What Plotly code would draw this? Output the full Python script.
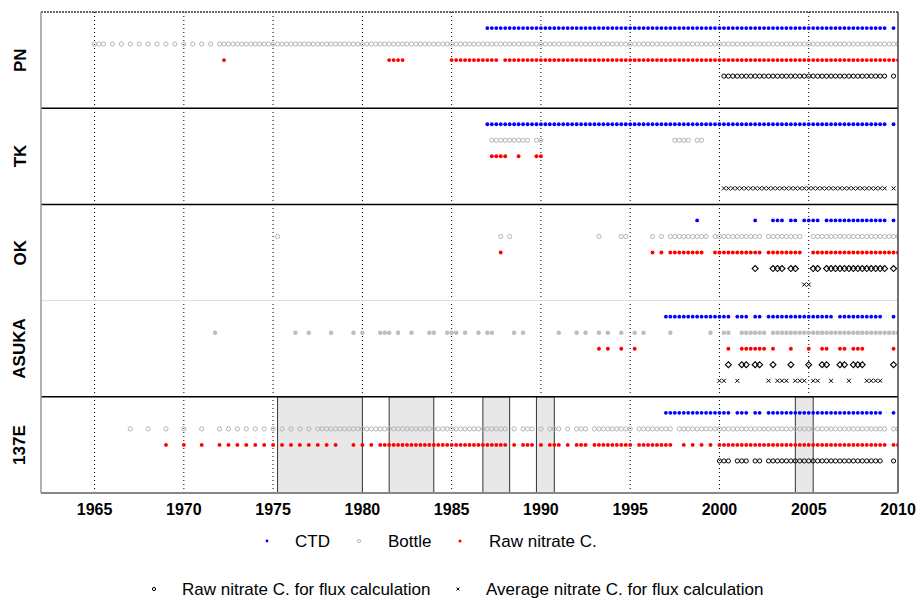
import plotly.graph_objects as go

# ---------------- data ----------------
START_YEAR = 1962           # first year token in every mask string
X_TICKS = [1965, 1970, 1975, 1980, 1985, 1990, 1995, 2000, 2005, 2010]
STATIONS = ["PN", "TK", "OK", "ASUKA", "137E"]
SERIES = ["CTD", "Bottle", "Raw nitrate C.",
          "Raw nitrate C. for flux calculation",
          "Average nitrate C. for flux calculation"]

# Sampling masks: one 4-char token per year from 1962 to 2010,
# one char per quarter ('#' = sampled, '.' = not sampled).
# '|' separates 1962-64 | 65-69 | 70-74 | 75-79 | 80-84 | 85-89 | 90-94 | 95-99 | 00-04 | 05-09 | 2010
PN_CTD = (".... .... .... | .... .... .... .... .... | .... .... .... .... .... | .... .... .... .... .... | "
          ".... .... .... .... .... | .... .... #### #### #### | #### #### #### #### #### | #### #### #### #### #### | "
          "#### #### #### #### #### | #### #### #### #### ##.# | ....")
PN_BOT = (".... .... .... | ###. #.#. #.#. #.#. #.#. | #.#. #.#. #### #### #### | #### #### #### #### #### | "
          "#### #### #### #### #### | #### #### #### #### #### | #### #### #### #### #### | #### #### #### #### #### | "
          "#### #### #### #### #### | #### #### #### #### #### | #...")
PN_RAW = (".... .... .... | .... .... .... .... .... | .... .... .#.. .... .... | .... .... .... .... .... | "
          ".... ..## ##.. .... .... | #### #### ###. #### #### | #### #### #### #### #### | #### #### #### #### #### | "
          "#### #### #### #### #### | #### #### #### #### #### | #...")
PN_FLX = (".... .... .... | .... .... .... .... .... | .... .... .... .... .... | .... .... .... .... .... | "
          ".... .... .... .... .... | .... .... .... .... .... | .... .... .... .... .... | .... .... .... .... .... | "
          ".### #### #### #### #### | #### #### #### #### ##.# | ....")
PN_AVG = ""

TK_CTD = (".... .... .... | .... .... .... .... .... | .... .... .... .... .... | .... .... .... .... .... | "
          ".... .... .... .... .... | .... .... #### #### #### | #### #### #### #### #### | #### #### #### #### #### | "
          "#### #### #### #### #### | #### #### #### #### ##.# | ....")
TK_BOT = (".... .... .... | .... .... .... .... .... | .... .... .... .... .... | .... .... .... .... .... | "
          ".... .... .... .... .... | .... .... .### #### ##.# | #... .... .... .... .... | .... .... ..## ##.# #... | "
          ".... .... .... .... .... | .... .... .... .... .... | ....")
TK_RAW = (".... .... .... | .... .... .... .... .... | .... .... .... .... .... | .... .... .... .... .... | "
          ".... .... .... .... .... | .... .... .### #..# ...# | #... .... .... .... .... | .... .... .... .... .... | "
          ".... .... .... .... .... | .... .... .... .... .... | ....")
TK_FLX = ""
TK_AVG = (".... .... .... | .... .... .... .... .... | .... .... .... .... .... | .... .... .... .... .... | "
          ".... .... .... .... .... | .... .... .... .... .... | .... .... .... .... .... | .... .... .... .... .... | "
          ".### #### #### #### #### | #### #### #### #### ##.# | ....")

OK_CTD = (".... .... .... | .... .... .... .... .... | .... .... .... .... .... | .... .... .... .... .... | "
          ".... .... .... .... .... | .... .... .... .... .... | .... .... .... .... .... | .... .... .... ...# .... | "
          ".... .... #... ###. ##.# | ###. #### #### #### ##.# | ....")
OK_BOT = (".... .... .... | .... .... .... .... .... | .... .... .... .... .... | .#.. .... .... .... .... | "
          ".... .... .... .... .... | .... .... ...# .#.. .... | .... .... .... .#.. ..## | .... .#.# .### #### ##.# | "
          "#### #### ##.# #### ###. | .### #### #### #### #### | #...")
OK_RAW = (".... .... .... | .... .... .... .... .... | .... .... .... .... .... | .... .... .... .... .... | "
          ".... .... .... .... .... | .... .... ...# .... .... | .... .... .... .... .... | .... .#.# .### #### #..# | "
          "#### #### ##.# #### ###. | .### #### #### #### #### | #...")
OK_FLX = (".... .... .... | .... .... .... .... .... | .... .... .... .... .... | .... .... .... .... .... | "
          ".... .... .... .... .... | .... .... .... .... .... | .... .... .... .... .... | .... .... .... .... .... | "
          ".... .... #... ###. ##.. | .##. #### #### #### ##.# | ....")
OK_AVG = (".... .... .... | .... .... .... .... .... | .... .... .... .... .... | .... .... .... .... .... | "
          ".... .... .... .... .... | .... .... .... .... .... | .... .... .... .... .... | .... .... .... .... .... | "
          ".... .... .... .... ...# | #... .... .... .... .... | ....")

ASUKA_CTD = (".... .... .... | .... .... .... .... .... | .... .... .... .... .... | .... .... .... .... .... | "
             ".... .... .... .... .... | .... .... .... .... .... | .... .... .... .... .... | .... .... #### #### #### | "
             "###. ###. ##.# #### #### | #### ##.# #### #### #..# | ....")
ASUKA_BOT = (".... .... .... | .... .... .... .... .... | .... ...# .... .... .... | .... .#.. #... .#.. ..#. | "
             "#... ###. #..# ...# #..# | ##.# ..#. ##.. ..#. #... | .... #... #.#. .#.# ..#. | .#.# .... .#.. .... ..#. | "
             ".##. .### ###. #### #### | #### #### #### #### #### | #...")
ASUKA_RAW = (".... .... .... | .... .... .... .... .... | .... .... .... .... .... | .... .... .... .... .... | "
             ".... .... .... .... .... | .... .... .... .... .... | .... .... .... .#.# ..#. | .#.. .... .... .... .... | "
             "..#. .### ###. #... #... | #..# #..# #.## #... ...# | ....")
ASUKA_FLX = (".... .... .... | .... .... .... .... .... | .... .... .... .... .... | .... .... .... .... .... | "
             ".... .... .... .... .... | .... .... .... .... .... | .... .... .... .... .... | .... .... .... .... .... | "
             "..#. .##. ##.. #... #... | #..# #..# #.## #... ...# | ....")
ASUKA_AVG = (".... .... .... | .... .... .... .... .... | .... .... .... .... .... | .... .... .... .... .... | "
             ".... .... .... .... .... | .... .... .... .... .... | .... .... .... .... .... | .... .... .... .... .... | "
             "##.. #... ...# .### .### | .##. .#.. .#.. .### #... | ....")

E137_CTD = (".... .... .... | .... .... .... .... .... | .... .... .... .... .... | .... .... .... .... .... | "
            ".... .... .... .... .... | .... .... .... .... .... | .... .... .... .... .... | .... .... #### #### #### | "
            "###. ###. ##.# #### #### | #### #### #### #### #..# | ....")
E137_BOT = (".... .... .... | .... .... #... #... #... | #... #... #.#. #.#. #.#. | #.#. #.#. #.## #### #### | "
            "#### #### #### #### #### | #### #### #### #.#. ###. | #.## #.#. ###. #### #### | #.## #### ##.# #### #### | "
            "#### #### #### #### #### | #### #### #### #### ##.# | #...")
E137_RAW = (".... .... .... | .... .... .... .... #... | #... #... #.#. #.#. #.#. | #.#. #.#. #.#. #.#. ..#. | "
            "#.#. #### #### #### #### | #### #### #### #.#. ###. | #.## #.#. ###. #### #### | #.## #### ##.. #.#. #.#. | "
            "#### #### #### #### #### | #### #### #### #### ##.# | #...")
E137_FLX = (".... .... .... | .... .... .... .... .... | .... .... .... .... .... | .... .... .... .... .... | "
            ".... .... .... .... .... | .... .... .... .... .... | .... .... .... .... .... | .... .... .... .... .... | "
            "###. ###. ##.# #### #### | #### #### #### #### #..# | ....")
E137_AVG = ""

STATION_MASKS = {
    "PN": [PN_CTD, PN_BOT, PN_RAW, PN_FLX, PN_AVG],
    "TK": [TK_CTD, TK_BOT, TK_RAW, TK_FLX, TK_AVG],
    "OK": [OK_CTD, OK_BOT, OK_RAW, OK_FLX, OK_AVG],
    "ASUKA": [ASUKA_CTD, ASUKA_BOT, ASUKA_RAW, ASUKA_FLX, ASUKA_AVG],
    "137E": [E137_CTD, E137_BOT, E137_RAW, E137_FLX, E137_AVG],
}

# shaded periods on the 137E line (start, end)
SHADE_START = [1975.25, 1981.5, 1986.75, 1989.75, 2004.25]
SHADE_END = [1980.0, 1984.0, 1988.25, 1990.75, 2005.25]


def decode(mask):
    tokens = mask.replace("|", " ").split()
    out = []
    for i, tok in enumerate(tokens):
        for q, c in enumerate(tok):
            if c == "#":
                out.append(START_YEAR + i + q / 4.0)
    return out


# ---------------- styling ----------------
FONT = "Liberation Sans, Arial, sans-serif"
BLUE, GRAY, RED, BLACK = "#0000ff", "#b4b4b4", "#ff0000", "#000000"
ROWS = 6  # y units per panel (rows at 1..5)

# body margin is removed in the page (post_script), so figure px == page px
W, H = 919, 598
L, R, T, B = 41, 898, 12, 493   # plot area in figure px

fig = go.Figure()


def marker_style(station, k):
    if k == 0:
        return dict(symbol="circle", size=3.8, color=BLUE, line=dict(width=0))
    if k == 1:
        if station == "ASUKA":
            return dict(symbol="circle", size=4.5, color="#bdbdbd", line=dict(width=0))
        return dict(symbol="circle-open", size=4.2, color=GRAY, line=dict(width=1, color=GRAY))
    if k == 2:
        return dict(symbol="circle", size=3.9, color=RED, line=dict(width=0))
    if k == 3:
        if station in ("OK", "ASUKA"):
            return dict(symbol="diamond-open", size=4.6, color=BLACK, line=dict(width=1.1, color=BLACK))
        return dict(symbol="circle-open", size=4.2, color=BLACK, line=dict(width=1, color=BLACK))
    return dict(symbol="x-thin-open", size=4, color=BLACK, line=dict(width=1, color="#333333"))


for p, st in enumerate(STATIONS):
    for k, mask in enumerate(STATION_MASKS[st]):
        xs = decode(mask)
        if not xs:
            continue
        fig.add_trace(go.Scatter(
            x=xs, y=[p * ROWS + k + 1] * len(xs), mode="markers",
            marker=marker_style(st, k), name=SERIES[k], showlegend=False,
            hoverinfo="x+name"))

shapes = []
# shaded rectangles in the 137E panel
for a, b in zip(SHADE_START, SHADE_END):
    shapes.append(dict(type="rect", xref="x", yref="y", x0=a, x1=b, y0=4 * ROWS, y1=5 * ROWS,
                       fillcolor="#e8e8e8", line=dict(color="#333333", width=1), layer="below"))
# vertical dotted grid lines
for t in X_TICKS[:-1]:
    shapes.append(dict(type="line", xref="x", yref="paper", x0=t, x1=t, y0=0, y1=1,
                       line=dict(color="#000000", width=1, dash="1px,3px"), layer="below"))
# panel separators
for p in range(1, 5):
    col = "#dddddd" if p == 3 else "#000000"
    shapes.append(dict(type="line", xref="paper", yref="y", x0=0, x1=1, y0=p * ROWS, y1=p * ROWS,
                       line=dict(color=col, width=1.5 if p != 3 else 1), layer="above"))
# frame
shapes.append(dict(type="line", xref="paper", yref="paper", x0=0, x1=1, y0=1, y1=1,
                   line=dict(color="#333333", width=1.5, dash="2px,1px")))
shapes.append(dict(type="line", xref="paper", yref="paper", x0=0, x1=0, y0=0, y1=1,
                   line=dict(color="#999999", width=1.5)))
shapes.append(dict(type="line", xref="paper", yref="paper", x0=1, x1=1, y0=0, y1=1,
                   line=dict(color="#444444", width=1.5)))
shapes.append(dict(type="line", xref="paper", yref="paper", x0=0, x1=1, y0=0, y1=0,
                   line=dict(color="#888888", width=2)))


# ---------------- legend (manual, below the plot) ----------------
def px_x(v):          # page px -> paper x
    return (v - L) / (R - L)


def px_y(v):          # page px -> paper y
    return (B - v) / (B - T)


def dot(cx, cy, r, fill, line_col, lw=0):
    shapes.append(dict(type="circle", xref="paper", yref="paper",
                       x0=px_x(cx - r), x1=px_x(cx + r), y0=px_y(cy + r), y1=px_y(cy - r),
                       fillcolor=fill, line=dict(color=line_col, width=lw)))


dot(267, 541, 1.4, BLUE, BLUE)
dot(359, 541, 1.6, "rgba(0,0,0,0)", GRAY, 1)
dot(460, 541, 1.5, RED, RED)
dot(154, 589, 1.6, "rgba(0,0,0,0)", BLACK, 1)
shapes.append(dict(type="line", xref="paper", yref="paper", x0=px_x(456.5), x1=px_x(459.5),
                   y0=px_y(587.5), y1=px_y(590.5), line=dict(color=BLACK, width=1)))
shapes.append(dict(type="line", xref="paper", yref="paper", x0=px_x(456.5), x1=px_x(459.5),
                   y0=px_y(590.5), y1=px_y(587.5), line=dict(color=BLACK, width=1)))

annotations = []
legend_items = [(293, 541, SERIES[0]), (386, 541, SERIES[1]), (487, 541, SERIES[2]),
                (180, 589, SERIES[3]), (484, 589, SERIES[4])]
for lx, ly, txt in legend_items:
    annotations.append(dict(text=txt, xref="paper", yref="paper", x=px_x(lx), y=px_y(ly),
                            xanchor="left", yanchor="middle", showarrow=False,
                            font=dict(family=FONT, size=17, color="#000000")))

for p, st in enumerate(STATIONS):
    annotations.append(dict(text="<b>%s</b>" % st, xref="paper", yref="y", x=px_x(20),
                            y=p * ROWS + ROWS / 2, textangle=-90, xanchor="center",
                            yanchor="middle", showarrow=False,
                            font=dict(family=FONT, size=17, color="#000000")))

fig.update_layout(
    width=W, height=H,
    margin=dict(l=L, r=W - R, t=T, b=H - B, autoexpand=False),
    paper_bgcolor="white", plot_bgcolor="white",
    showlegend=False,
    shapes=shapes, annotations=annotations,
    xaxis=dict(range=[1962, 2010], tickvals=X_TICKS,
               ticktext=["<b>%d</b>" % t for t in X_TICKS],
               tickfont=dict(family=FONT, size=16, color="#000000"),
               showgrid=False, zeroline=False, showline=False, ticks="",
               ticklabelstandoff=5, automargin=False),
    yaxis=dict(range=[5 * ROWS, 0], showgrid=False, zeroline=False, showline=False,
               showticklabels=False, ticks=""),
)

fig.write_html(
    "out.html",
    config={"displayModeBar": False},
    post_script="document.body.style.margin='0px';"
                "document.documentElement.style.overflow='hidden';"
                "document.body.style.overflow='hidden';")
